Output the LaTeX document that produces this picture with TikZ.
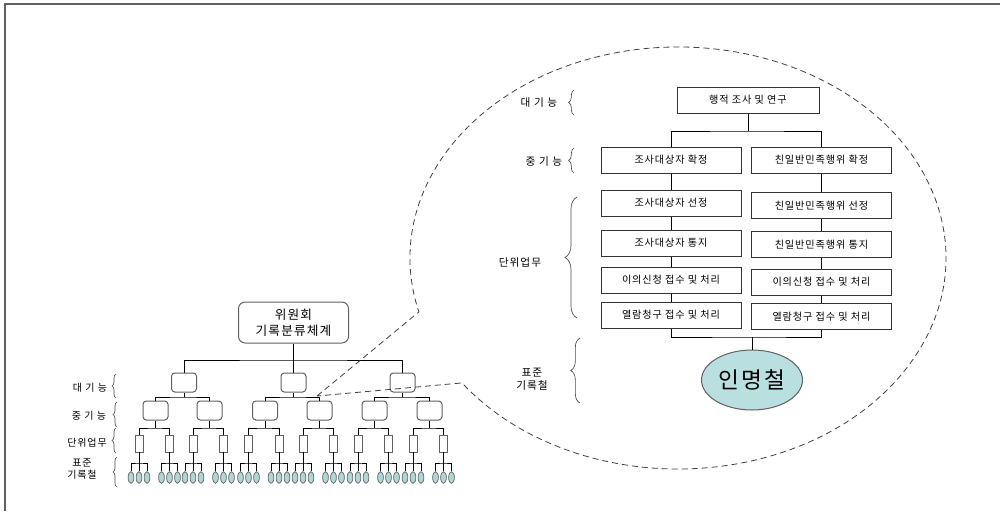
\documentclass[tikz,border=0pt]{standalone}
\usepackage{fontspec}
\setmainfont{Noto Sans CJK KR}[LetterSpace=9]
\usepackage{xcolor}
\usetikzlibrary{decorations.pathreplacing,shapes.geometric}

\definecolor{leafteal}{RGB}{176,214,214}
\definecolor{bigteal}{RGB}{186,223,224}
\definecolor{edgegray}{RGB}{96,96,96}

\tikzset{
  wire/.style={draw=black, line width=0.6pt},
  rootbox/.style={draw=edgegray, line width=0.75pt, rounded corners=5pt, minimum width=82.5pt, minimum height=30.75pt, inner sep=0pt, align=center, font=\fontsize{9.5}{12}\selectfont},
  tbox/.style={draw=edgegray, line width=0.75pt, rounded corners=2.5pt, minimum width=18.75pt, minimum height=14.25pt, inner sep=0pt},
  ubox/.style={draw=edgegray, line width=0.6pt, minimum width=6pt, minimum height=12.75pt, inner sep=0pt},
  leaf/.style={ellipse, draw=edgegray, fill=leafteal, line width=0.5pt, minimum width=4.3pt, minimum height=8.8pt, inner sep=0pt},
  cbox/.style={draw=black!80, line width=0.75pt, minimum width=105pt, minimum height=19.5pt, inner sep=0pt, font=\fontsize{7.6}{9}\selectfont},
  bigleaf/.style={ellipse, draw=edgegray, fill=bigteal, line width=0.75pt, minimum width=75.75pt, minimum height=45pt, inner sep=0pt, font=\fontsize{17}{19}\selectfont},
  lab/.style={inner sep=0pt, align=center, font=\fontsize{7.5}{9}\selectfont},
  brc/.style={draw=black!70, line width=0.5pt, decorate, decoration={brace, amplitude=#1}},
  brc/.default=3pt,
  callout/.style={draw=black!75, line width=0.6pt, dash pattern=on 4.5pt off 3pt},
}

\begin{document}
\begin{tikzpicture}[x=0.75pt,y=0.75pt,yscale=-1,xscale=1]
\useasboundingbox (0,0) rectangle (1000,511);

% frame
\draw[edgegray, line width=0.9pt] (5,511) -- (5,4) -- (1000,4);

%Shape: Rounded Rect -- root
\node[rootbox] (root) at (293.5,322.5) {위원회\\기록분류체계};

%Shape: Rounded Rect -- top level
\node[tbox] (t1) at (184,382.5) {};
\node[tbox] (t2) at (293.5,382.5) {};
\node[tbox] (t3) at (402.5,382.5) {};

%Straight Lines -- root to top level
\coordinate (b0) at (293.5,360);
\draw[wire] (root.south) -- (t2.north);
\draw[wire] (t1.north) |- (b0) -| (t3.north);

% mid level, units and leaves
\foreach \i/\x in {1/155.5,2/209.5,3/265,4/319.5,5/374.5,6/429.5}{
  \node[tbox] (m\i) at (\x,410.5) {};
  \foreach \side/\off in {a/-16.5,b/14}{
    \node[ubox] (u\i\side) at (\x+\off,443.5) {};
    \foreach \j/\eo in {1/-8,2/0,3/8}
      \node[leaf] (e\i\side\j) at (\x+\off+\eo,477.5) {};
    \draw[wire] (u\i\side.south) -- (e\i\side2.north);
    \draw[wire] (e\i\side1.north) |- (u\i\side.south |- 0,463) -| (e\i\side3.north);
  }
  \draw[wire] (m\i.south) -- (m\i.south |- 0,428);
  \draw[wire] (u\i a.north) |- (m\i.south |- 0,428) -| (u\i b.north);
}

%Straight Lines -- top level to mid level
\foreach \t/\a/\b in {t1/m1/m2,t2/m3/m4,t3/m5/m6}{
  \draw[wire] (\t.south) -- (\t.south |- 0,397);
  \draw[wire] (\a.north) |- (\t.south |- 0,397) -| (\b.north);
}

% Text Node -- tree labels
\node[lab] (lt1) at (90,388) {대\,\,기\,\,능};
\node[lab] (lt2) at (89,416) {중\,\,기\,\,능};
\node[lab] (lt3) at (87,443) {단위업무};
\node[lab] (lt4) at (82,469) {표준\\기록철};
\draw[brc] (116,398) -- (116,374);
\draw[brc] (117,427) -- (117,402);
\draw[brc] (116,453) -- (116,428);
\draw[brc] (117,487) -- (117,457);

%Shape: Ellipse -- dashed callout
\coordinate (tip) at (317,396);
\coordinate (ca) at (418.9,311.9);
\draw[callout] (tip) -- (ca) arc[start angle=165.2, end angle=503.7, x radius=268, y radius=211] -- (tip);

%Shape: Rectangle -- callout boxes
\node[cbox, minimum width=106.5pt] (top) at (748,100) {행적 조사 및 연구};
\node[cbox] (l1) at (671,160) {조사대상자 확정};
\node[cbox] (l2) at (671,203) {조사대상자 선정};
\node[cbox] (l3) at (671,243) {조사대상자 통지};
\node[cbox] (l4) at (671,280) {이의신청 접수 및 처리};
\node[cbox] (l5) at (671,315) {열람청구 접수 및 처리};
\node[cbox] (r1) at (821.5,160) {친일반민족행위 확정};
\node[cbox] (r2) at (821.5,205.5) {친일반민족행위 선정};
\node[cbox] (r3) at (821.5,244.5) {친일반민족행위 통지};
\node[cbox] (r4) at (821.5,282) {이의신청 접수 및 처리};
\node[cbox] (r5) at (821.5,316.5) {열람청구 접수 및 처리};

%Shape: Ellipse -- record file
\node[bigleaf] (inm) at (752,380) {인명철};

%Straight Lines -- callout connectors
\coordinate (jt) at (748,131);
\coordinate (jb) at (752,337);
\draw[wire] (top.south) -- (jt);
\draw[wire] (l1.north) |- (jt) -| (r1.north);
\draw[wire] (l1.south) -- (l2.north);
\draw[wire] (l2.south) -- (l3.north);
\draw[wire] (l3.south) -- (l4.north);
\draw[wire] (l4.south) -- (l5.north);
\draw[wire] (r1.south) -- (r2.north);
\draw[wire] (r2.south) -- (r3.north);
\draw[wire] (r3.south) -- (r4.north);
\draw[wire] (r4.south) -- (r5.north);
\draw[wire] (l5.south) |- (jb) -| (r5.south);
\draw[wire] (jb) -- (inm.north);

% Text Node -- callout labels
\node[lab, font=\fontsize{8}{10}\selectfont] (lc1) at (539,103) {대\,\,기\,\,능};
\node[lab, font=\fontsize{8}{10}\selectfont] (lc2) at (544,162) {중\,\,기\,\,능};
\node[lab, font=\fontsize{8}{10}\selectfont] (lc3) at (520,263) {단위업무};
\node[lab, font=\fontsize{8}{10}\selectfont] (lc4) at (532,379) {표준\\기록철};
\draw[brc=4pt] (574,115) -- (574,90);
\draw[brc=4pt] (574,173) -- (574,148);
\draw[brc=9pt] (577,318) -- (577,197);
\draw[brc=7pt] (580,403) -- (580,338);

\end{tikzpicture}
\end{document}
